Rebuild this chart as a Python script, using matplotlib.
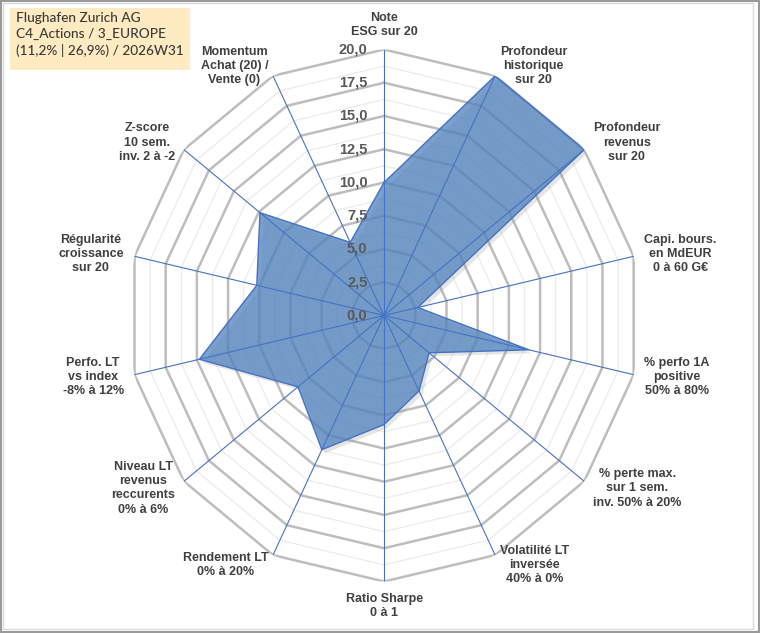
import numpy as np
import matplotlib
matplotlib.use("Agg")
import matplotlib.pyplot as plt
import matplotlib.patheffects as pe
from matplotlib.patches import Rectangle

# ---- data ----
categories = [
    "Note\nESG sur 20",
    "Profondeur\nhistorique\nsur 20",
    "Profondeur\nrevenus\nsur 20",
    "Capi. bours.\nen MdEUR\n0 à 60 G€",
    "% perfo 1A\npositive\n50% à 80%",
    "% perte max.\nsur 1 sem.\ninv. 50% à 20%",
    "Volatilité LT\ninversée\n40% à 0%",
    "Ratio Sharpe\n0 à 1",
    "Rendement LT\n0% à 20%",
    "Niveau LT\nrevenus\nreccurents\n0% à 6%",
    "Perfo. LT\nvs index\n-8% à 12%",
    "Régularité\ncroissance\nsur 20",
    "Z-score\n10 sem.\ninv. 2 à -2",
    "Momentum\nAchat (20) /\nVente (0)",
]
values = [10.0, 20.0, 20.0, 2.7, 11.6, 4.5, 6.3, 8.2, 11.2, 8.6, 14.8, 10.2, 12.4, 6.1]
tick_values = [0, 2.5, 5, 7.5, 10, 12.5, 15, 17.5, 20]
tick_labels = ["0,0", "2,5", "5,0", "7,5", "10,0", "12,5", "15,0", "17,5", "20,0"]
minor_values = [1.25, 3.75, 6.25, 8.75, 11.25, 13.75, 16.25, 18.75]
title_lines = ["Flughafen Zurich AG", "C4_Actions / 3_EUROPE", "(11,2% | 26,9%) / 2026W31"]

# ---- figure ----
fig = plt.figure(figsize=(7.6, 6.33), dpi=100)
fig.patch.set_facecolor("white")

# frame
fig.add_artist(Rectangle((0.001, 0.001), 0.998, 0.997, transform=fig.transFigure,
                         fill=False, edgecolor="#9A9A9A", linewidth=1.5))
fig.add_artist(Rectangle((0.004, 0.006), 0.987, 0.99, transform=fig.transFigure,
                         fill=False, edgecolor="#DADADA", linewidth=1.0))

ax = fig.add_axes([0.1685, 0.0814, 0.6737, 0.8404], projection="polar")
ax.set_aspect("auto")
ax.set_theta_zero_location("N")
ax.set_theta_direction(-1)
ax.set_ylim(0, 20)
ax.set_xticks([])
ax.set_yticks([])
ax.grid(False)
ax.spines["polar"].set_visible(False)
ax.set_facecolor("none")

n = len(categories)
theta = np.linspace(0, 2 * np.pi, n, endpoint=False)
theta_c = np.append(theta, theta[0])

# polygon grid
for r in minor_values:
    ax.plot(theta_c, [r] * (n + 1), color="#EBEBEB", lw=0.9, zorder=1)
for r in tick_values[1:]:
    ax.plot(theta_c, [r] * (n + 1), color="#BDBDBD", lw=1.8, zorder=2)

# data polygon
vals_c = np.append(values, values[0])
ax.fill(theta_c, vals_c, color="#4F81BD", alpha=0.75, zorder=3, lw=0,
        path_effects=[pe.SimplePatchShadow(offset=(2.5, -2.5), shadow_rgbFace="#8C8C8C", alpha=0.22),
                      pe.Normal()])
ax.plot(theta_c, vals_c, color="#4472C4", lw=1.0, zorder=4)

# spokes
for t in theta:
    ax.plot([t, t], [0, 20], color="#4472C4", lw=0.8, zorder=5)

# radial tick labels
for r, lab in zip(tick_values, tick_labels):
    ax.annotate(lab, xy=(0, r), xytext=(-12, 0), textcoords="offset points",
                ha="right", va="center", fontsize=10.5, fontweight="bold",
                color="#595959", family="Liberation Sans", zorder=6)

# category labels
for t, lab in zip(theta, categories):
    s, c = np.sin(t), np.cos(t)
    if abs(s) < 0.1:
        ha = "center"
        va = "bottom" if c > 0 else "top"
    else:
        ha = "left" if s > 0 else "right"
        va = "center"
    ax.annotate(lab, xy=(t, 20), xytext=(8 * s, 8 * c), textcoords="offset points",
                ha=ha, va=va, multialignment="center", fontsize=9, fontweight="bold",
                color="#404040", family="Liberation Sans", linespacing=1.25,
                annotation_clip=False)

# title box
fig.add_artist(Rectangle((10 / 760, 1 - 70 / 633), 180 / 760, 62 / 633,
                         transform=fig.transFigure, facecolor="#FEEBC2", edgecolor="none"))
fig.text(16 / 760, 1 - 12 / 633, "\n".join(title_lines), ha="left", va="top",
         fontsize=9.8, color="#3A3A3A", family="Lato", fontweight="medium", linespacing=1.38)

fig.savefig("out.png", dpi=100)
